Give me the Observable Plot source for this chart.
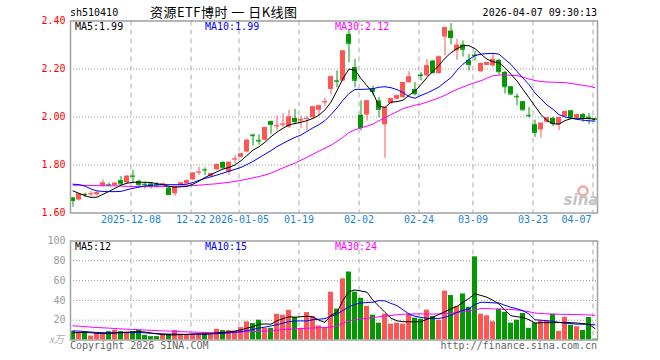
<!DOCTYPE html>
<html><head><meta charset="utf-8">
<script src="https://cdn.jsdelivr.net/npm/d3@7"></script>
<script src="https://cdn.jsdelivr.net/npm/@observablehq/plot@0.6"></script>
<style>
body{margin:0;background:#fff;}
#wrap{position:relative;width:660px;height:360px;overflow:hidden;background:#fff;}
#wrap svg{position:absolute;left:0;top:0;}
</style></head><body><div id="wrap"></div>
<script>
// ---- data ----
const tickIdx    = [10, 20, 28, 38, 48, 58, 67, 77, 87];
const tickLabels = ["2025-12-08","12-22","2026-01-05","01-19","02-02","02-24","03-09","03-23","04-07"];
const priceTicks = [1.60, 1.80, 2.00, 2.20, 2.40];
const priceGrid  = [1.80, 2.00, 2.20];
const volTicks   = [20, 40, 60, 80, 100];
const volGrid    = [20, 40, 60, 80];

const open = [1.663,1.654,1.678,1.678,1.676,1.714,1.718,1.714,1.735,1.725,
 1.754,1.732,1.720,1.721,1.718,1.714,1.704,1.680,1.717,1.721,
 1.738,1.768,1.780,1.753,1.780,1.811,1.770,1.822,1.832,1.854,
 1.925,1.903,1.903,1.981,1.960,1.967,1.958,1.994,1.983,1.991,
 1.997,2.028,2.060,2.115,2.151,2.150,2.344,2.206,2.007,2.008,
 2.118,2.067,1.967,2.056,2.074,2.081,2.143,2.115,2.175,2.171,
 2.233,2.181,2.333,2.358,2.275,2.300,2.236,2.258,2.189,2.215,
 2.213,2.236,2.186,2.126,2.086,2.064,2.007,1.968,1.946,1.978,
 1.994,1.968,2.001,2.026,1.996,2.010,1.999,1.993];
const close = [1.652,1.679,1.677,1.680,1.684,1.725,1.717,1.724,1.721,1.753,
 1.753,1.718,1.718,1.713,1.717,1.721,1.677,1.707,1.725,1.735,
 1.766,1.770,1.779,1.763,1.802,1.788,1.811,1.825,1.846,1.903,
 1.922,1.900,1.956,1.969,1.963,1.970,2.000,1.981,1.990,1.994,
 2.042,2.046,2.063,2.167,2.149,2.275,2.307,2.153,1.956,2.067,
 2.106,2.032,2.039,2.076,2.088,2.143,2.167,2.097,2.173,2.213,
 2.185,2.250,2.372,2.331,2.299,2.282,2.219,2.256,2.222,2.226,
 2.240,2.189,2.126,2.096,2.084,2.030,2.005,1.936,1.974,1.996,
 1.973,1.998,2.022,1.996,2.010,1.996,1.997,1.991];
const high = [1.665,1.680,1.682,1.690,1.689,1.738,1.725,1.726,1.752,1.756,
 1.777,1.738,1.728,1.725,1.727,1.725,1.706,1.708,1.728,1.737,
 1.768,1.790,1.788,1.765,1.805,1.813,1.813,1.839,1.848,1.907,
 1.928,1.925,1.958,1.983,2.004,2.014,2.028,2.032,2.004,2.004,
 2.044,2.050,2.078,2.171,2.192,2.278,2.361,2.240,2.067,2.067,
 2.129,2.081,2.042,2.079,2.092,2.146,2.189,2.143,2.185,2.240,
 2.236,2.254,2.375,2.389,2.324,2.317,2.261,2.272,2.226,2.228,
 2.265,2.240,2.190,2.128,2.096,2.066,2.040,1.987,1.974,1.999,
 1.998,1.998,2.025,2.027,2.012,2.015,2.015,1.995];
const low = [1.624,1.650,1.665,1.668,1.670,1.707,1.710,1.712,1.717,1.721,
 1.725,1.705,1.700,1.700,1.704,1.713,1.675,1.670,1.715,1.720,
 1.735,1.756,1.756,1.750,1.778,1.785,1.756,1.804,1.830,1.851,
 1.879,1.883,1.900,1.928,1.942,1.956,1.953,1.967,1.953,1.942,
 1.994,2.004,2.046,2.092,2.122,2.148,2.226,2.122,1.942,1.983,
 2.088,1.997,1.828,2.053,2.070,2.078,2.139,2.088,2.150,2.168,
 2.180,2.178,2.254,2.300,2.236,2.250,2.192,2.233,2.185,2.213,
 2.206,2.175,2.096,2.090,2.047,2.025,1.996,1.915,1.912,1.975,
 1.960,1.943,1.998,1.994,1.994,1.978,1.968,1.990];
const ma5 = [1.692,1.682,1.672,1.665,1.666,1.678,1.690,1.703,1.716,1.724,
 1.728,1.728,1.728,1.727,1.722,1.718,1.711,1.708,1.709,1.711,
 1.720,1.733,1.748,1.760,1.772,1.783,1.790,1.800,1.818,1.840,
 1.862,1.876,1.895,1.918,1.937,1.953,1.967,1.973,1.978,1.985,
 1.994,2.008,2.030,2.062,2.110,2.160,2.200,2.195,2.160,2.130,
 2.100,2.045,2.040,2.062,2.064,2.070,2.090,2.108,2.135,2.165,
 2.190,2.215,2.245,2.268,2.285,2.298,2.297,2.285,2.262,2.241,
 2.230,2.226,2.205,2.178,2.150,2.115,2.080,2.045,2.010,1.985,
 1.972,1.970,1.985,1.993,1.995,1.994,1.994,1.990];
const ma10 = [1.720,1.718,1.712,1.700,1.692,1.690,1.689,1.689,1.690,1.697,
 1.703,1.708,1.713,1.715,1.717,1.718,1.718,1.718,1.718,1.720,
 1.727,1.736,1.744,1.751,1.758,1.766,1.774,1.782,1.790,1.802,
 1.815,1.830,1.845,1.860,1.877,1.890,1.903,1.915,1.925,1.940,
 1.955,1.968,1.985,2.010,2.038,2.070,2.098,2.115,2.115,2.116,
 2.118,2.124,2.126,2.122,2.114,2.102,2.085,2.078,2.090,2.100,
 2.112,2.125,2.145,2.164,2.195,2.220,2.240,2.256,2.262,2.264,
 2.265,2.262,2.240,2.219,2.190,2.162,2.135,2.100,2.075,2.050,
 2.032,2.010,2.000,1.995,1.990,1.987,1.984,1.983];
const ma30 = [1.716,1.716,1.715,1.715,1.714,1.714,1.713,1.713,1.712,1.711,
 1.711,1.710,1.710,1.710,1.710,1.710,1.711,1.711,1.712,1.713,
 1.714,1.716,1.718,1.720,1.722,1.725,1.728,1.732,1.736,1.741,
 1.746,1.752,1.758,1.766,1.777,1.788,1.798,1.808,1.820,1.832,
 1.845,1.858,1.870,1.882,1.898,1.915,1.935,1.947,1.955,1.962,
 1.970,1.985,1.997,2.010,2.022,2.035,2.042,2.049,2.054,2.062,
 2.071,2.080,2.090,2.104,2.115,2.125,2.135,2.143,2.151,2.162,
 2.172,2.175,2.175,2.174,2.173,2.166,2.158,2.152,2.148,2.146,
 2.145,2.144,2.143,2.140,2.136,2.132,2.128,2.122];
const volume = [8.8,7.4,7.4,4.0,6.4,7.1,8.5,9.8,8.5,7.4,
 8.5,10.1,4.7,3.4,3.4,5.4,5.4,9.5,4.7,5.4,
 5.4,5.7,6.4,5.4,10.8,9.5,9.5,8.8,12.5,18.3,
 16.6,20.0,11.8,11.8,26.0,25.0,30.0,22.8,11.8,27.7,
 23.6,14.2,11.8,48.3,31.2,61.8,68.7,48.3,42.1,34.0,
 25.1,17.0,26.1,16.0,17.0,16.0,26.0,22.0,21.0,30.2,
 23.8,20.0,49.3,44.9,34.0,46.5,33.0,84.0,26.1,24.5,
 18.4,31.2,27.9,17.0,20.0,26.8,11.8,17.0,19.4,19.4,
 26.1,8.6,22.8,14.8,13.4,9.6,22.8,0.9];
const vma5 = [7.4,7.5,7.6,7.3,6.8,6.5,6.7,7.0,7.6,7.9,
 8.1,8.6,8.0,7.0,6.2,5.5,5.1,5.2,5.5,5.6,
 6.1,6.2,5.9,6.3,7.2,7.6,8.3,9.0,10.2,12.0,
 13.5,15.8,16.2,16.0,19.5,21.5,23.5,23.0,23.5,24.0,
 23.3,20.0,17.8,25.0,28.0,40.0,49.0,50.5,49.5,48.3,
 40.0,34.0,27.9,22.0,19.4,18.4,18.5,18.4,18.5,21.0,
 22.8,26.0,28.5,31.5,34.0,38.0,42.0,46.6,45.0,43.2,
 40.0,36.4,30.0,24.5,23.5,22.8,20.5,17.0,17.5,17.5,
 17.5,17.7,17.8,17.5,17.2,16.5,16.0,11.5];
const vma10 = [9.2,9.0,8.5,8.0,7.6,7.4,7.3,7.3,7.4,7.4,
 7.4,7.5,7.2,6.8,6.5,6.2,6.0,6.0,5.8,5.7,
 5.8,5.9,6.0,6.2,6.4,6.6,7.2,7.8,8.5,9.5,
 10.8,12.0,13.0,14.2,15.5,17.0,18.5,19.2,19.3,19.3,
 20.5,21.0,21.6,24.0,26.0,30.0,33.5,36.0,37.4,37.8,
 38.2,39.8,39.5,37.0,34.7,30.5,26.2,24.0,22.8,22.0,
 21.8,21.8,23.0,25.0,27.9,30.0,31.5,36.0,38.1,38.0,
 37.5,37.4,35.0,33.0,31.5,29.6,26.2,20.4,20.0,19.4,
 19.0,17.7,17.0,16.5,16.0,16.0,15.6,15.3];
const vma30 = [14.3,14.0,13.5,13.0,12.6,12.3,12.0,11.6,11.2,10.9,
 10.7,10.4,10.0,9.8,9.5,9.2,9.0,8.7,8.4,8.2,
 8.0,7.8,7.6,7.5,7.5,7.6,7.6,7.8,8.0,8.3,
 8.6,8.8,9.0,9.4,10.0,10.5,10.8,11.2,11.5,11.8,
 12.2,12.4,12.6,12.9,14.3,17.0,19.4,20.5,21.3,21.8,
 22.5,23.5,24.0,24.8,25.5,26.0,26.2,26.3,26.3,26.2,
 26.2,26.2,26.5,27.0,27.8,28.6,29.5,30.5,31.9,31.7,
 31.4,31.2,31.0,30.8,30.3,29.5,28.5,27.2,26.8,26.4,
 26.1,26.0,25.9,25.8,25.7,25.5,25.3,25.0];

const titleCode  = "sh510410";
const titleName  = "资源ETF博时 一 日K线图";
const timeStamp  = "2026-04-07 09:30:13";
const priceMALabels = ["MA5:1.99", "MA10:1.99", "MA30:2.12"];
const volMALabels   = ["MA5:12", "MA10:15", "MA30:24"];
const volUnit   = "x万";
const copyright = "Copyright 2026 SINA.COM";
const siteUrl   = "http://finance.sina.com.cn";

// ---- styles ----
const UP = "#ff5555", DN = "#009900";
const MA_COLORS = ["#000000", "#0000ff", "#ff00ff"];
const DATE_BLUE = "#1784d6";
const MONO = "'DejaVu Sans Mono', monospace";

const rows = open.map((o, i) => ({
  i, o, c: close[i], h: high[i], l: low[i], v: volume[i],
  m5: ma5[i], m10: ma10[i], m30: ma30[i],
  vm5: vma5[i], vm10: vma10[i], vm30: vma30[i],
  col: close[i] >= open[i] ? UP : DN
}));

const HW = 5 / 12; // half body width in index units
const xOpt = {domain: [-5/12, 87 + 5/12], axis: null};
const common = {
  width: 660, height: 360, marginLeft: 70, marginRight: 63,
  color: {type: "identity"},
  style: {fontFamily: MONO, fontSize: "10px", background: "none", overflow: "visible"}
};

const price = Plot.plot({
  ...common,
  marginTop: 20.5, marginBottom: 147.5,
  x: xOpt,
  y: {domain: [1.6, 2.4], axis: null},
  marks: [
    Plot.ruleY(priceGrid, {stroke: "#9a9a9a", strokeDasharray: "1,2"}),
    Plot.ruleX(tickIdx, {x: d => d - 1/3, stroke: "#ababab", strokeDasharray: "5,4"}),
    Plot.axisY({ticks: priceTicks, tickFormat: d3.format(".2f"), tickSize: 0, tickPadding: 5, color: "#ff0000", label: null, fontFamily: MONO}),
    Plot.ruleX(rows, {x: "i", y1: "l", y2: "h", stroke: "col"}),
    Plot.rect(rows, {x1: d => d.i - HW, x2: d => d.i + HW, y1: "o", y2: "c", fill: "col"}),
    Plot.ruleY(rows, {x1: d => d.i - HW, x2: d => d.i + HW, y: "c", stroke: "col"}),
    Plot.line(rows, {x: "i", y: "m30", stroke: MA_COLORS[2], strokeWidth: 1}),
    Plot.line(rows, {x: "i", y: "m10", stroke: MA_COLORS[1], strokeWidth: 1}),
    Plot.line(rows, {x: "i", y: "m5", stroke: MA_COLORS[0], strokeWidth: 1}),
    Plot.frame({stroke: "#a0a0a0", strokeWidth: 1.5}),
    Plot.text(tickIdx.slice(0, 8), {x: d => d - 1/3, text: (d, j) => tickLabels[j], frameAnchor: "bottom", dy: 10, fill: DATE_BLUE}),
    Plot.text(tickIdx.slice(8), {x: d => d - 1/3, text: (d, j) => tickLabels[8 + j], frameAnchor: "bottom", dy: 10, dx: -1.5, textAnchor: "end", fill: DATE_BLUE})
  ]
});

const vol = Plot.plot({
  ...common,
  marginTop: 240.5, marginBottom: 20.5,
  x: xOpt,
  y: {domain: [0, 100], axis: null},
  marks: [
    Plot.ruleY(volGrid, {stroke: "#9a9a9a", strokeDasharray: "1,2"}),
    Plot.ruleX(tickIdx, {x: d => d - 1/3, stroke: "#ababab", strokeDasharray: "5,4"}),
    Plot.axisY({ticks: volTicks, tickSize: 0, tickPadding: 5, color: "#9a9a9a", label: null, fontFamily: MONO}),
    Plot.rect(rows, {x1: d => d.i - HW, x2: d => d.i + HW, y1: 0, y2: "v", fill: "col"}),
    Plot.line(rows, {x: "i", y: "vm30", stroke: MA_COLORS[2], strokeWidth: 1}),
    Plot.line(rows, {x: "i", y: "vm10", stroke: MA_COLORS[1], strokeWidth: 1}),
    Plot.line(rows, {x: "i", y: "vm5", stroke: MA_COLORS[0], strokeWidth: 1}),
    Plot.frame({stroke: "#a0a0a0", strokeWidth: 1.5})
  ]
});

const wrap = document.getElementById("wrap");
wrap.appendChild(price);
wrap.appendChild(vol);

// ---- text overlay (titles, legends, credits) ----
const ov = d3.create("svg").attr("width", 660).attr("height", 360);
function txt(s, x, y, o = {}) {
  const t = ov.append("text").attr("x", x).attr("y", y)
    .attr("text-anchor", o.a || "start")
    .attr("fill", o.c || "#000")
    .attr("font-family", o.f || MONO)
    .attr("font-size", o.s || 10)
    .attr("font-style", o.it ? "italic" : null)
    .attr("font-weight", o.b ? "bold" : null)
    .attr("xml:space", "preserve")
    .text(s);
  if (o.len) t.attr("textLength", o.len).attr("lengthAdjust", "spacing");
}
txt(titleCode, 70, 16);
txt(titleName, 150, 17, {f: "'Noto Sans CJK SC', sans-serif", s: 13, len: 147});
txt(timeStamp, 597, 16, {a: "end"});
const legX = [75, 205, 335];
priceMALabels.forEach((s, k) => txt(s, legX[k], 30, {c: MA_COLORS[k]}));
volMALabels.forEach((s, k) => txt(s, legX[k], 250, {c: MA_COLORS[k]}));
txt(volUnit, 64, 343, {a: "end", c: "#aaaaaa", f: "'Noto Sans CJK SC', sans-serif", s: 10, it: true});
txt(copyright, 70, 349, {c: "#666666"});
txt(siteUrl, 597, 349, {a: "end", c: "#666666"});
// sina watermark
ov.append("circle").attr("cx", 583).attr("cy", 191).attr("r", 4.5)
  .attr("fill", "none").attr("stroke", "#f4a8a8").attr("stroke-width", 2.5);
txt("sina", 581, 205, {a: "middle", c: "#c4c4c4", f: "'DejaVu Sans', sans-serif", s: 15, it: true, b: true});
wrap.appendChild(ov.node());
</script>
</body></html>
